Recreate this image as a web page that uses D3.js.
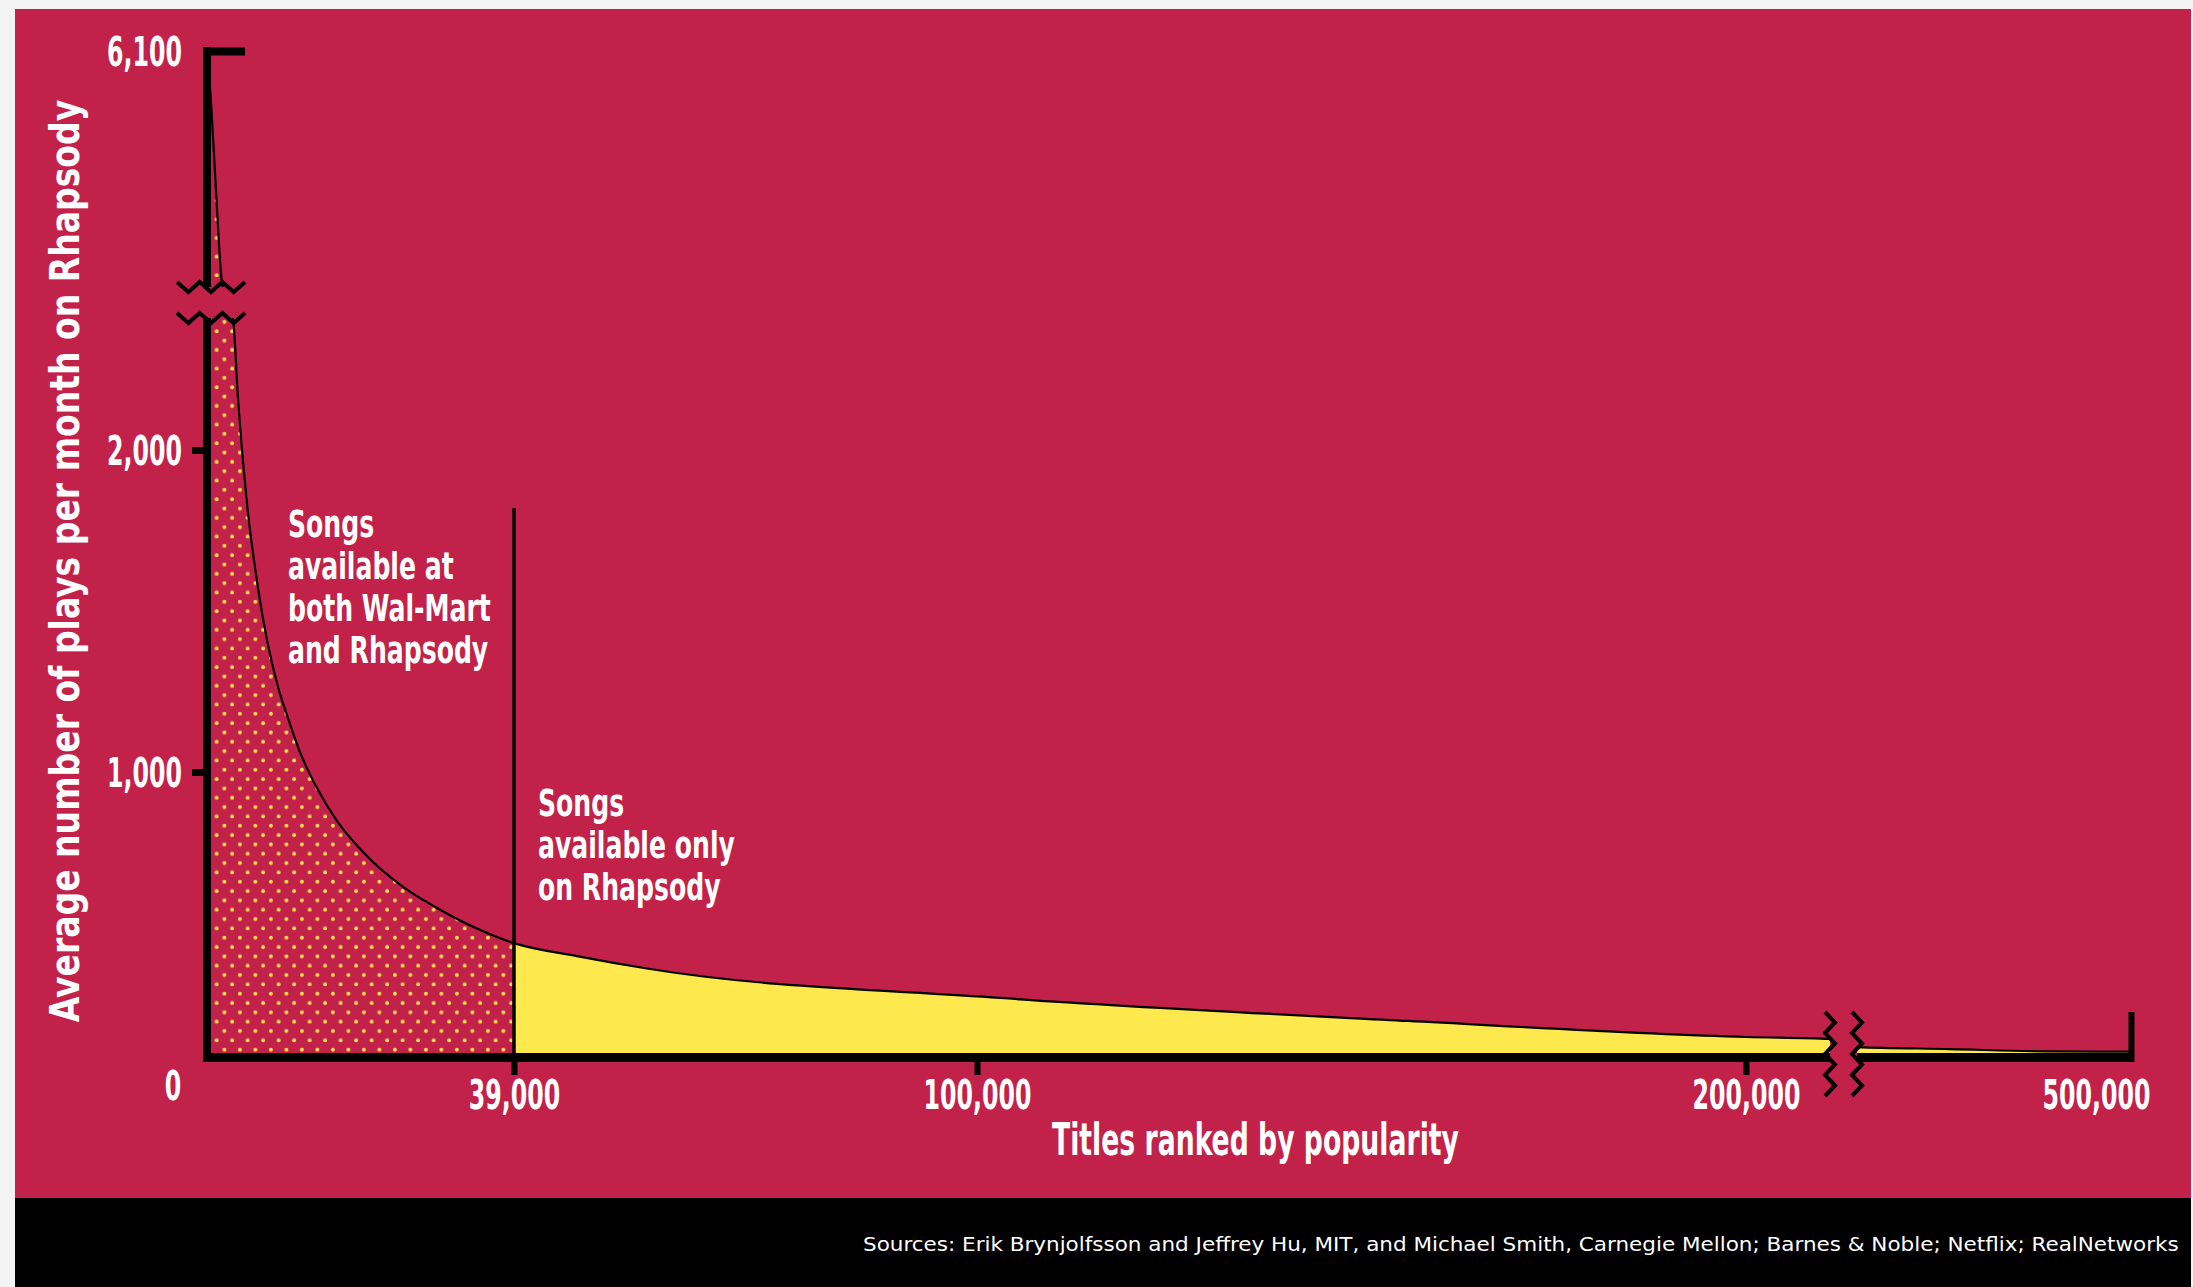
<!doctype html>
<html>
<head>
<meta charset="UTF-8">
<title>Rhapsody long tail</title>
<script src="https://d3js.org/d3.v7.min.js"></script>
<style>
body { margin:0; background:#f3f3f3; overflow:hidden; }
text { font-family:"Liberation Sans Narrow","Arial Narrow","DejaVu Sans Condensed",Roboto,sans-serif; fill:#fff; }
</style>
</head>
<body>
<script>
// popularity rank of a title -> average plays per month
var ranks = [0, 500, 1150, 1900, 2600, 3300, 3940, 5080, 6480, 9020, 10160, 11810, 12700, 13970, 16510,
             19820, 24900, 29220, 34430, 39000, 47300, 56920, 102990, 156050, 200000, 211000,
             300000, 368000, 436000, 500000];
var plays = [6100, 5450, 4250, 3050, 2700, 2410, 2160, 1835, 1571, 1264, 1177, 1062, 1012, 943, 826,
             715, 591, 516, 441, 391, 345, 299, 196, 114, 57, 50,
             21, 14, 6, 5];

var split = 39000;   // titles also stocked at Wal-Mart

var xTicks = [39000, 100000, 200000, 500000];
var xTickLabels = ["39,000", "100,000", "200,000", "500,000"];
var yTicks = [1000, 2000, 6100];
var yTickLabels = ["1,000", "2,000", "6,100"];

var noteBoth = ["Songs", "available at", "both Wal-Mart", "and Rhapsody"];
var noteOnly = ["Songs", "available only", "on Rhapsody"];

var xTitle = "Titles ranked by popularity";
var yTitle = "Average number of plays per month on Rhapsody";
var source = "Sources: Erik Brynjolfsson and Jeffrey Hu, MIT, and Michael Smith, Carnegie Mellon; Barnes & Noble; Netflix; RealNetworks";

var W = 2193, H = 1287;
var red = "#c22249", yellow = "#fde84e";

var svg = d3.select("body").append("svg")
    .attr("width", W).attr("height", H)
    .style("display", "block");

// panel + footer band
svg.append("rect").attr("x", 15).attr("y", 9).attr("width", 2176).attr("height", 1189).attr("fill", red);
svg.append("rect").attr("x", 15).attr("y", 1198).attr("width", 2176).attr("height", 89).attr("fill", "#000");

// broken scales (gaps at the zigzags)
var x = d3.scaleLinear()
    .domain([0, 39000, 100000, 200000, 211000, 300000, 500000])
    .range([207, 514, 977, 1746, 1830, 1857, 2131]);
var y = d3.scaleLinear()
    .domain([0, 1000, 2000, 2410, 3000, 6100])
    .range([1053, 772, 450, 318, 287, 51]);
var xGap = [211000, 300000], yGap = [2410, 3000];

function measure(str, size, weight) {
    var t = svg.append("text").style("font-size", size + "px").style("font-weight", weight).text(str);
    var w = t.node().getComputedTextLength();
    t.remove();
    return w;
}
// condense text horizontally around its x anchor
function squeeze(sel, k) {
    sel.each(function() {
        var t = d3.select(this), x0 = +t.attr("x") || 0;
        t.attr("transform", (t.attr("transform") || "") +
            " translate(" + x0 + ",0) scale(" + k + ",1) translate(" + (-x0) + ",0)");
    });
}

var defs = svg.append("defs");
var pat = defs.append("pattern").attr("id", "dots")
    .attr("patternUnits", "userSpaceOnUse")
    .attr("x", 205).attr("y", 1045)
    .attr("width", 15.5).attr("height", 18.66);
pat.append("rect").attr("width", 15.5).attr("height", 18.66).attr("fill", red);
pat.selectAll("circle").data([[3.9, 4.7], [11.65, 14]]).join("circle")
    .attr("cx", function(d) { return d[0]; }).attr("cy", function(d) { return d[1]; })
    .attr("r", 1.9).attr("fill", "#ffe64a");

defs.append("clipPath").attr("id", "xcut").selectAll("rect")
    .data([[0, x(xGap[0])], [x(xGap[1]), W]]).join("rect")
    .attr("x", function(d) { return d[0]; }).attr("width", function(d) { return d[1] - d[0]; })
    .attr("y", 0).attr("height", H);
defs.append("clipPath").attr("id", "ycut").selectAll("rect")
    .data([[0, y(yGap[1])], [y(yGap[0]), H]]).join("rect")
    .attr("y", function(d) { return d[0]; }).attr("height", function(d) { return d[1] - d[0]; })
    .attr("x", 0).attr("width", W);

var plot = svg.append("g").attr("clip-path", "url(#xcut)")
    .append("g").attr("clip-path", "url(#ycut)");

var series = ranks.map(function(r, i) { return {r: r, v: plays[i]}; });

var area = d3.area()
    .x(function(d) { return x(d.r); })
    .y0(y(0))
    .y1(function(d) { return y(d.v); })
    .curve(d3.curveMonotoneX);
var line = d3.line()
    .x(function(d) { return x(d.r); })
    .y(function(d) { return y(d.v); })
    .curve(d3.curveMonotoneX);

plot.append("path").datum(series.filter(function(d) { return d.r <= split; }))
    .attr("d", area).attr("fill", "url(#dots)");
plot.append("path").datum(series.filter(function(d) { return d.r >= split; }))
    .attr("d", area).attr("fill", yellow);
plot.append("path").datum(series)
    .attr("d", line).attr("fill", "none").attr("stroke", "#000").attr("stroke-width", 2.2);

// divider at 39,000
plot.append("line")
    .attr("x1", x(split)).attr("x2", x(split))
    .attr("y1", 508).attr("y2", y(0))
    .attr("stroke", "#000").attr("stroke-width", 3.5);

// axis lines
plot.append("line").attr("x1", 207).attr("x2", 207).attr("y1", 47).attr("y2", y(0) + 9)
    .attr("stroke", "#000").attr("stroke-width", 8);
plot.append("line").attr("x1", 203).attr("x2", x(500000) + 3).attr("y1", y(0) + 4.5).attr("y2", y(0) + 4.5)
    .attr("stroke", "#000").attr("stroke-width", 9);

// zigzag break marks
function zig(x0, y0, len, n, amp, vertical) {
    var pts = d3.range(n + 1).map(function(i) {
        var a = i * len / n, b = (i % 2 ? amp : -amp);
        return vertical ? [x0 + b, y0 + a] : [x0 + a, y0 + b];
    });
    svg.append("path").attr("d", d3.line()(pts))
        .attr("fill", "none").attr("stroke", "#000").attr("stroke-width", 4)
        .attr("stroke-linejoin", "miter");
}
zig(177, y(yGap[1]), 68, 6, 5, false);
zig(177, y(yGap[0]), 68, 6, 5, false);
zig(x(xGap[0]), 1012, 84, 8, 5, true);
zig(x(xGap[1]), 1012, 84, 8, 5, true);

// y axis
var gy = svg.append("g").attr("transform", "translate(203,0)").style("color", "#000")
    .call(d3.axisLeft(y).tickValues(yTicks).tickSize(11).tickPadding(10)
        .tickFormat(function(d, i) { return yTickLabels[i]; }));
gy.select(".domain").remove();
gy.selectAll(".tick line").attr("stroke-width", 7);
gy.selectAll(".tick").filter(function(d) { return d === 6100; }).select("line")
    .attr("x2", 42).attr("stroke-width", 8);
gy.selectAll(".tick text").style("font-size", "40px").style("font-weight", "bold")
    .attr("x", -21).attr("dy", "0.36em");

// x axis
var gx = svg.append("g").attr("transform", "translate(0," + (y(0) + 9) + ")").style("color", "#000")
    .call(d3.axisBottom(x).tickValues(xTicks).tickSize(13)
        .tickFormat(function(d, i) { return xTickLabels[i]; }));
gx.select(".domain").remove();
gx.selectAll(".tick line").attr("stroke-width", 6);
gx.selectAll(".tick").filter(function(d) { return d === 500000; }).select("line")
    .attr("y2", -50);
gx.selectAll(".tick text").style("font-size", "40px").style("font-weight", "bold")
    .attr("y", 47).attr("dy", null)
    .attr("x", function(d) { return d === 500000 ? -35 : 0; });

var zero = svg.append("text").attr("x", 173).attr("y", 1100).attr("text-anchor", "middle")
    .style("font-size", "40px").style("font-weight", "bold").text("0");

var kTick = 108 / measure("500,000", 40, "bold");
squeeze(gx.selectAll(".tick text"), kTick);
squeeze(gy.selectAll(".tick text"), kTick);
squeeze(zero, kTick);

// axis titles
var yt = svg.append("text").attr("transform", "translate(79,561) rotate(-90)")
    .attr("text-anchor", "middle").style("font-size", "41px").style("font-weight", "bold").text(yTitle);
squeeze(yt, 923 / yt.node().getComputedTextLength());
var xt = svg.append("text").attr("x", 1052).attr("y", 1155)
    .style("font-size", "44px").style("font-weight", "bold").text(xTitle);
squeeze(xt, 407 / xt.node().getComputedTextLength());

// annotations
var kNote = 203 / measure("both Wal-Mart", 38, "bold");
function note(lines, x0, y0) {
    var t = svg.append("g").selectAll("text").data(lines).join("text")
        .attr("x", x0).attr("y", function(d, i) { return y0 + i * 42; })
        .style("font-size", "38px").style("font-weight", "bold")
        .text(function(d) { return d; });
    squeeze(t, kNote);
}
note(noteBoth, 288, 537);
note(noteOnly, 538, 816);

// source line
var src = svg.append("text").attr("x", 863).attr("y", 1251)
    .style("font-size", "19px").text(source);
squeeze(src, 1317 / src.node().getComputedTextLength());
</script>
</body>
</html>
